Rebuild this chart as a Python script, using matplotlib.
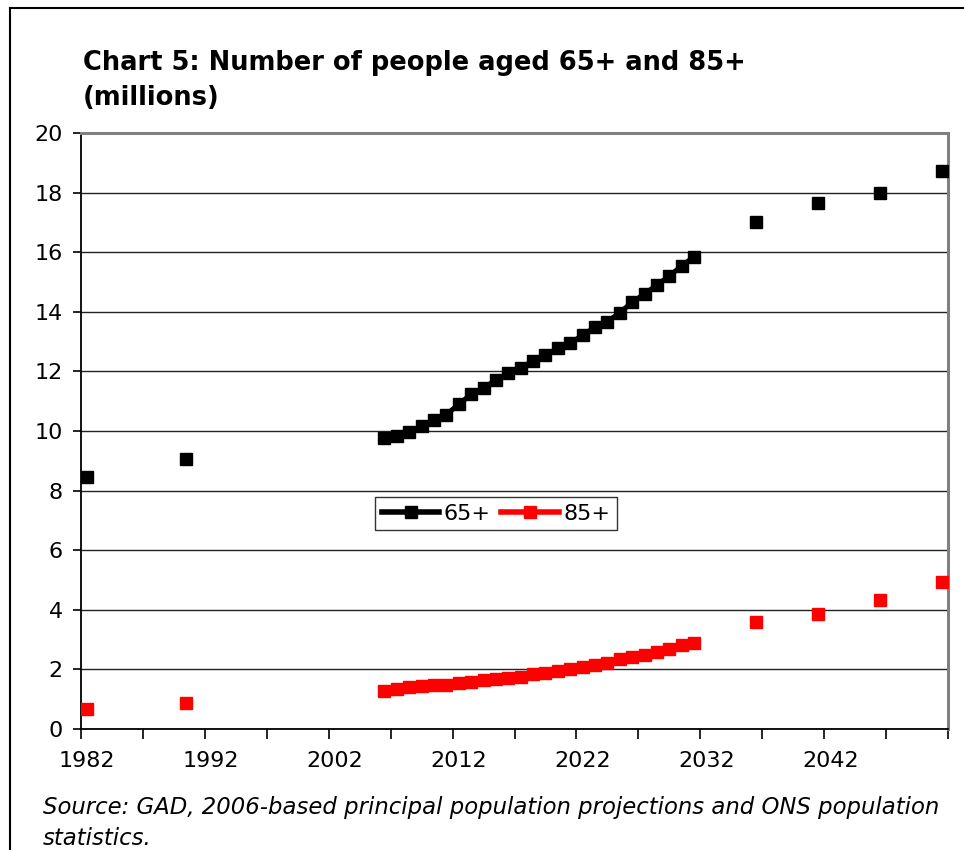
import numpy as np
import pandas as pd
import matplotlib
matplotlib.use("Agg")
import matplotlib.pyplot as plt
from matplotlib.lines import Line2D

years = [1982, 1990] + list(range(2006, 2032)) + [2036, 2041, 2046, 2051]
aged_65 = [8.47, 9.07,
           9.78, 9.82, 9.97, 10.16, 10.36, 10.55, 10.90, 11.23, 11.43, 11.72,
           11.93, 12.13, 12.34, 12.55, 12.78, 12.94, 13.22, 13.48, 13.67, 13.97,
           14.32, 14.60, 14.90, 15.20, 15.54, 15.85,
           17.03, 17.65, 17.98, 18.73]
aged_85 = [0.68, 0.88,
           1.29, 1.35, 1.42, 1.43, 1.49, 1.49, 1.56, 1.57, 1.63, 1.69,
           1.70, 1.76, 1.83, 1.89, 1.96, 2.03, 2.09, 2.16, 2.22, 2.34,
           2.41, 2.48, 2.57, 2.68, 2.81, 2.90,
           3.58, 3.86, 4.33, 4.94]
label_years = [1982, 1992, 2002, 2012, 2022, 2032, 2042]
series_names = ["65+", "85+"]

full = pd.DataFrame({"65+": aged_65, "85+": aged_85}, index=years)
full = full.reindex(range(1982, 2052))

W, H = 964, 850
fig = plt.figure(figsize=(W / 100, H / 100), dpi=100)
ax = fig.add_axes([81 / W, 1 - 729 / H, (948 - 81) / W, (729 - 133) / H])

colors = {"65+": "#000000", "85+": "#FF0000"}
for name in series_names:
    ax.plot(full.index, full[name], color=colors[name], lw=3.6,
            marker="s", ms=8.5, mec=colors[name], mfc=colors[name],
            solid_capstyle="butt", zorder=3)

ax.set_xlim(1981.5, 2051.5)
ax.set_ylim(0, 20)
ax.set_yticks(np.arange(0, 21, 2))
ax.grid(axis="y", color="#222222", lw=1.0)
ax.set_axisbelow(True)

ax.set_xticks(label_years)
ax.set_xticklabels([str(y) for y in label_years])
ax.set_xticks(np.arange(1981.5, 2052, 5), minor=True)
ax.tick_params(axis="x", which="major", length=0, pad=16, labelsize=16)
ax.tick_params(axis="x", which="minor", length=7, width=1.2, direction="out", color="black")
ax.tick_params(axis="y", which="major", length=6, width=1.2, direction="out", pad=7, labelsize=16)

for s in ["left", "bottom"]:
    ax.spines[s].set_color("black")
    ax.spines[s].set_linewidth(1.3)
for s in ["top", "right"]:
    ax.spines[s].set_color("#808080")
    ax.spines[s].set_linewidth(2.2)

handles = [Line2D([], [], color=colors[n], lw=4.0, marker="s", ms=8.5) for n in series_names]
leg = ax.legend(handles, series_names, loc="upper left",
                bbox_to_anchor=((375 - 81) / (948 - 81), (729 - 497) / (729 - 133)),
                ncol=2, frameon=True, fancybox=False, edgecolor="black",
                fontsize=16, handlelength=2.6, handletextpad=0.2, columnspacing=0.45,
                borderpad=0.3, borderaxespad=0, numpoints=1)
leg.get_frame().set_linewidth(1.0)

fig.text(83 / W, 1 - 50 / H, "Chart 5: Number of people aged 65+ and 85+\n(millions)",
         fontsize=18.5, fontweight="bold", va="top", ha="left", linespacing=1.45)

fig.text(43 / W, 1 - 796 / H,
         "Source: GAD, 2006-based principal population projections and ONS population\nstatistics.",
         fontsize=16.4, style="italic", va="top", ha="left", linespacing=1.45)

# outer frame (top and left edges visible)
fig.add_artist(Line2D([10 / W, 1], [1 - 8 / H, 1 - 8 / H], color="black", lw=1.5, transform=fig.transFigure))
fig.add_artist(Line2D([10 / W, 10 / W], [0, 1 - 8 / H], color="black", lw=1.5, transform=fig.transFigure))

fig.savefig("out.png", dpi=100)
